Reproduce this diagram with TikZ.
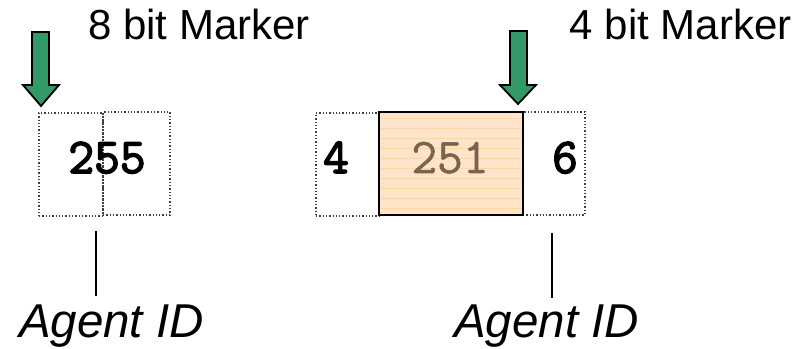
\documentclass[tikz,border=0pt]{standalone}
\usepackage{fontspec}
\setmainfont{Liberation Sans}
\newfontfamily\monob[FakeBold=3]{Latin Modern Mono}
\newfontfamily\monom[FakeBold=1]{Latin Modern Mono}
\begin{document}
\begin{tikzpicture}[x=1pt,y=1pt,
  dotbox/.style={draw=black!75,dotted,line width=1.3pt,minimum width=#1,minimum height=103pt,inner sep=0pt,outer sep=0pt},
  numtxt/.style={font=\monob\fontsize{50}{50}\selectfont,inner sep=0pt,anchor=base},
  marktxt/.style={font=\fontsize{42}{42}\selectfont,inner sep=0pt,anchor=base west},
  agenttxt/.style={font=\fontsize{47.5}{47.5}\selectfont\itshape,inner sep=0pt,anchor=base},
  greenarrow/.style={fill=arrowgreen,draw=black,line width=1.8pt,line join=miter},
  leader/.style={draw=black,line width=1.2pt}]
\definecolor{arrowgreen}{HTML}{339966}
\definecolor{peach}{HTML}{FFE4CA}
\definecolor{peachline}{HTML}{FDD6A8}
\definecolor{numbrown}{HTML}{7A644C}
\useasboundingbox (0,0) rectangle (799,348);
% left group
\node[dotbox=64pt] (box1) at (71,183.5) {};
\node[dotbox=67pt] (box2) at (136.5,184.5) {};
\node[numtxt] (n255) at (107,175) {255};
% right group
\node[dotbox=63pt] (boxa) at (347.5,183.5) {};
\node[dotbox=62pt] (boxc) at (554,184.5) {};
\node[fill=peach,minimum width=144pt,minimum height=103pt,inner sep=0pt,outer sep=0pt] (boxb) at (451,184.5) {};
\foreach \yy in {0,...,9} {
  \draw[peachline,line width=0.6pt] ([yshift=-6pt-\yy*10pt]boxb.north west) -- ([yshift=-6pt-\yy*10pt]boxb.north east);
}
\draw[black,line width=2pt] (boxb.south west) rectangle (boxb.north east);
\node[numtxt] (n4) at (336,175) {4};
\node[numtxt,text=numbrown,font=\monom\fontsize{50}{50}\selectfont] (n251) at (450,175) {251};
\node[numtxt] (n6) at (565,175) {6};
% arrows
\draw[greenarrow] (32,316) -- (49,316) -- (49,263) -- (59,263) -- (41,242) -- (23,263) -- (32,263) -- cycle;
\draw[greenarrow] (510,317) -- (527,317) -- (527,263) -- (536,263) -- (518,244) -- (500,263) -- (510,263) -- cycle;
% labels
\node[marktxt] (m8) at (88,308) {8 bit Marker};
\node[marktxt] (m4) at (569.5,308) {4 bit Marker};
\node[agenttxt] (a1) at (111.5,11) {Agent ID};
\node[agenttxt] (a2) at (546.5,11) {Agent ID};
\coordinate (l1top) at (96,117);
\coordinate (l1bot) at (96,52);
\coordinate (l2top) at (552,115);
\coordinate (l2bot) at (552,50);
\draw[leader] (l1top) -- (l1bot);
\draw[leader] (l2top) -- (l2bot);
\end{tikzpicture}
\end{document}
